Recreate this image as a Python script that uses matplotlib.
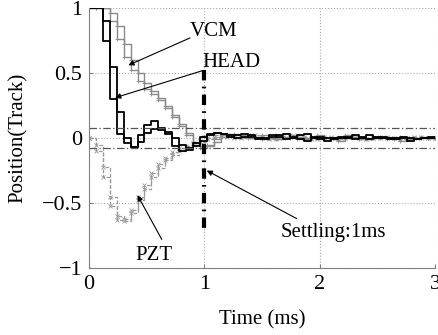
import matplotlib
matplotlib.use('Agg')
import matplotlib.pyplot as plt
import numpy as np

plt.rcParams['font.family'] = ['Liberation Serif', 'DejaVu Serif']
plt.rcParams['font.size'] = 15

# sample time 0.06 ms, 0 .. 3 ms
time_ms = np.arange(51) * 0.06

head_a = [1.0, 1.0, 0.75, 0.30, 0.03, -0.04, -0.07, 0.02, 0.10, 0.13,
          0.08, 0.03, -0.06, -0.10, -0.09, -0.04, 0.01, 0.03, 0.04, 0.03,
          0.02, 0.00, 0.01, 0.02, 0.00, -0.01, 0.01, 0.02, 0.03, 0.01,
          -0.01, -0.02, 0.00, 0.01, 0.00, -0.01, 0.00, 0.01, 0.02, 0.00,
          -0.01, 0.00, 0.01, 0.00, -0.01, 0.00, -0.02, -0.01, 0.00, 0.01, 0.00]
head_b = [1.0, 1.0, 0.90, 0.55, 0.20, 0.00, -0.07, -0.03, 0.04, 0.07,
          0.06, 0.05, 0.00, -0.05, -0.08, -0.06, -0.02, 0.02, 0.04, 0.03,
          0.01, 0.02, 0.03, 0.01, -0.01, 0.00, 0.02, 0.01, -0.01, 0.00,
          0.02, 0.03, 0.01, -0.01, -0.02, 0.00, 0.01, 0.00, -0.01, 0.01,
          0.02, 0.01, 0.00, -0.01, 0.00, 0.01, 0.00, -0.01, 0.00, 0.00, 0.00]
vcm_a = [1.0, 1.0, 1.0, 0.90, 0.76, 0.62, 0.52, 0.44, 0.38, 0.34,
         0.29, 0.23, 0.16, 0.09, 0.02, -0.05, -0.08, -0.05, -0.01, 0.02,
         0.03, 0.02, 0.01, 0.02, 0.00, -0.01, 0.00, 0.02, 0.01, 0.00,
         -0.01, 0.00, 0.01, 0.02, 0.00, -0.01, -0.02, 0.00, 0.01, 0.00,
         -0.01, 0.00, 0.01, 0.00, -0.01, -0.02, -0.01, 0.00, 0.01, 0.00, 0.00]
vcm_b = [1.0, 1.0, 1.0, 0.96, 0.86, 0.72, 0.60, 0.50, 0.42, 0.36,
         0.31, 0.25, 0.18, 0.11, 0.04, -0.03, -0.06, -0.06, -0.03, 0.01,
         0.02, 0.03, 0.02, 0.00, 0.01, 0.02, 0.00, -0.01, 0.01, 0.02,
         0.01, -0.01, 0.00, 0.01, 0.00, -0.01, 0.00, 0.02, 0.01, -0.01,
         0.00, 0.01, 0.00, -0.01, 0.00, 0.01, 0.00, -0.01, 0.00, 0.00, 0.00]
pzt_a = [0.0, -0.10, -0.30, -0.52, -0.63, -0.62, -0.55, -0.45, -0.36, -0.27,
         -0.20, -0.15, -0.11, -0.08, -0.06, -0.04, -0.02, 0.00, 0.02, 0.02,
         0.01, 0.00, 0.01, 0.02, 0.01, 0.00, -0.01, 0.00, 0.01, 0.02,
         0.01, 0.00, -0.01, 0.00, 0.01, 0.00, -0.01, 0.00, 0.01, 0.00,
         -0.01, 0.00, 0.01, 0.00, 0.00, -0.01, 0.00, 0.01, 0.00, 0.00, 0.00]
pzt_b = [0.0, -0.05, -0.22, -0.45, -0.60, -0.64, -0.58, -0.48, -0.39, -0.30,
         -0.23, -0.17, -0.13, -0.10, -0.07, -0.05, -0.03, -0.01, 0.01, 0.02,
         0.02, 0.01, 0.00, 0.01, 0.02, 0.01, 0.00, -0.01, 0.00, 0.01,
         0.02, 0.01, 0.00, -0.01, 0.00, 0.01, 0.00, 0.00, 0.01, 0.00,
         -0.01, 0.00, 0.00, 0.01, 0.00, -0.01, 0.00, 0.00, 0.01, 0.00, 0.00]

band = 0.075
settle_t = 1.0

fig = plt.figure(figsize=(4.39, 3.35), dpi=100)
ax = fig.add_axes([0.203, 0.2, 0.788, 0.776])

gray = '#8a8a8a'
for y in (pzt_a, pzt_b):
    ax.step(time_ms, y, where='post', color='#9a9a9a', lw=0.9, ls=(0, (3, 1.5)),
            marker='x', ms=3, mew=0.6)
for y in (vcm_a, vcm_b):
    ax.step(time_ms, y, where='post', color=gray, lw=1.0, marker='+', ms=3, mew=0.6)
for y in (head_a, head_b):
    ax.step(time_ms, y, where='post', color='k', lw=1.3)

ax.axhline(band, color='#555555', lw=0.9, ls=(0, (6, 2, 1, 2)))
ax.axhline(-band, color='#555555', lw=0.9, ls=(0, (6, 2, 1, 2)))
ax.plot([settle_t, settle_t], [0.52, -0.74], color='k', lw=3, ls=(0, (2.5, 1.5, 0.4, 1.5)))

arrow = dict(arrowstyle='-|>', color='k', lw=0.8, mutation_scale=8, shrinkA=0, shrinkB=0)
ax.annotate('', xy=(0.34, 0.56), xytext=(0.875, 0.77), arrowprops=arrow)
ax.text(1.08, 0.82, 'VCM', ha='center', va='center')
ax.annotate('', xy=(0.225, 0.31), xytext=(0.99, 0.52), arrowprops=arrow)
ax.text(1.23, 0.58, 'HEAD', ha='center', va='center')
ax.annotate('', xy=(0.42, -0.44), xytext=(0.63, -0.78), arrowprops=arrow)
ax.text(0.56, -0.9, 'PZT', ha='center', va='center')
ax.annotate('', xy=(1.02, -0.25), xytext=(1.80, -0.62), arrowprops=arrow)
ax.text(2.12, -0.73, 'Settling:1ms', ha='center', va='center')

ax.set_xlim(0, 3)
ax.set_ylim(-1, 1)
ax.set_xticks([0, 1, 2, 3])
ax.set_yticks([-1, -0.5, 0, 0.5, 1])
ax.set_yticklabels(['\u22121', '\u22120.5', '0', '0.5', '1'])
ax.grid(True, color='#aaaaaa', ls=':', lw=0.8)
ax.tick_params(direction='in', length=3, color='#808080', pad=5, labelsize=16)
for s in ('top', 'right'):
    ax.spines[s].set_visible(False)
for s in ('left', 'bottom'):
    ax.spines[s].set_color('#808080')
ax.set_xlabel('Time (ms)', labelpad=12)
ax.set_ylabel('Position(Track)', labelpad=10)

plt.savefig('out.png', dpi=100)
